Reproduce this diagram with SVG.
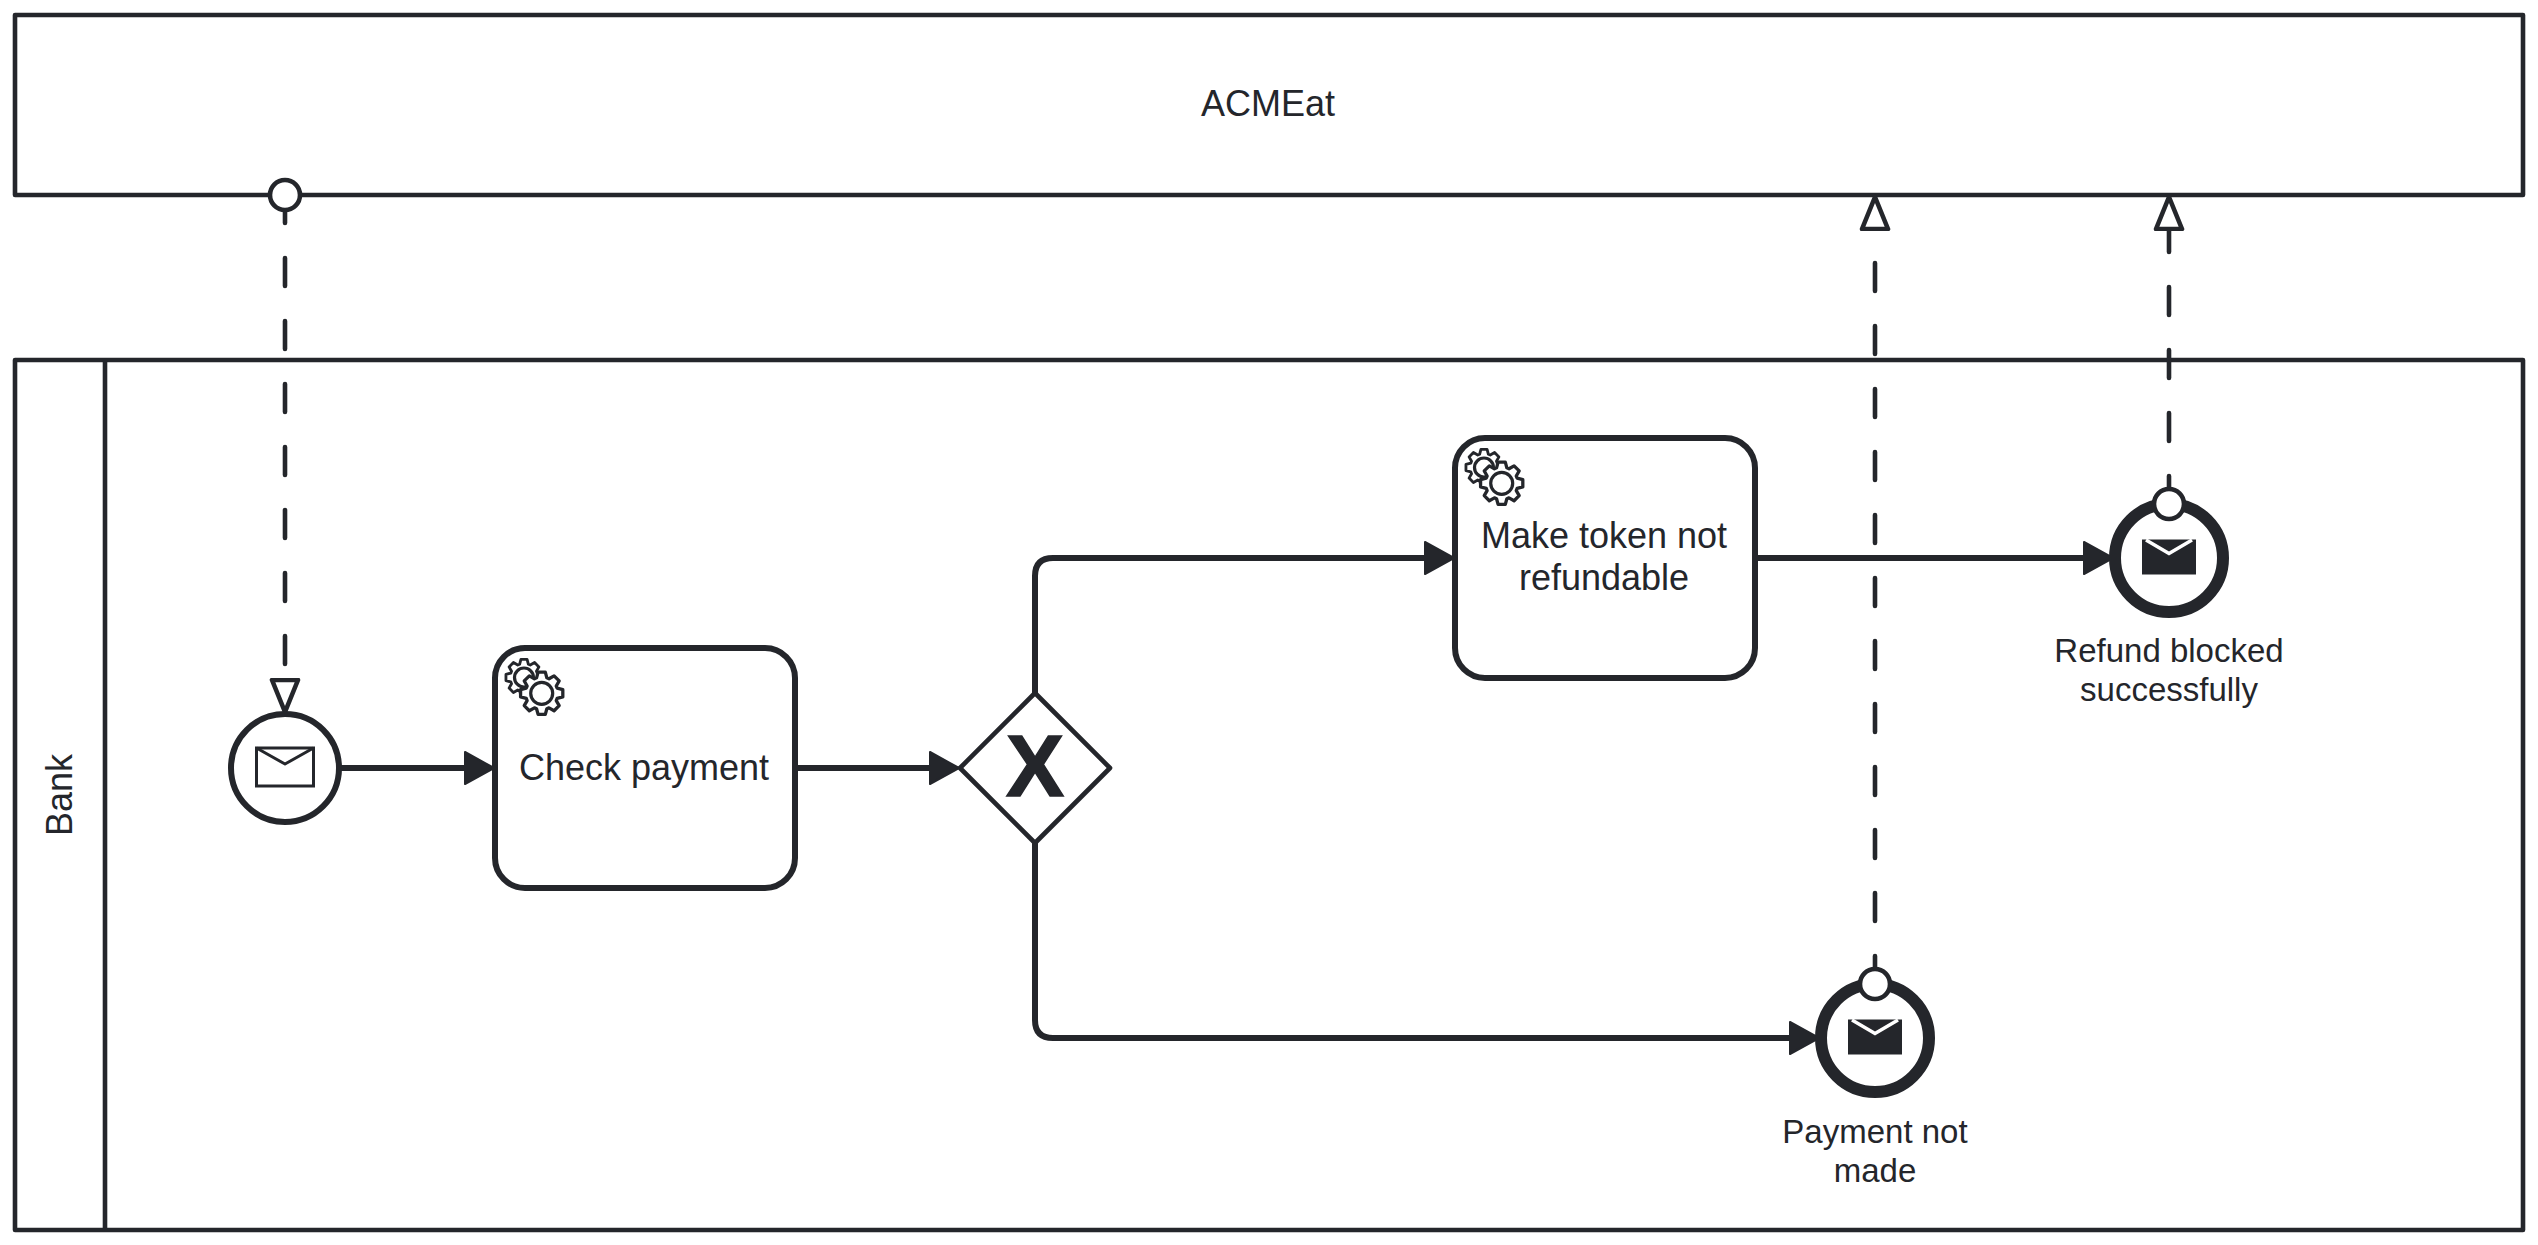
<svg xmlns="http://www.w3.org/2000/svg" xmlns:xlink="http://www.w3.org/1999/xlink" width="2538" height="1245" viewBox="0 0 2538 1245">
<style>
text{font-family:"Liberation Sans",Arial,sans-serif;fill:#24262b;text-anchor:middle}
.t36{font-size:36px}
.t33{font-size:33px}
.pool{fill:#fff;stroke:#24262b;stroke-width:4.6;stroke-linejoin:round}
.task{fill:#fff;stroke:#24262b;stroke-width:6}
.seq{fill:none;stroke:#24262b;stroke-width:6;marker-end:url(#solid)}
.msg{fill:none;stroke:#24262b;stroke-width:4.6;stroke-linecap:round;stroke-dasharray:28 35;marker-end:url(#hollow)}
.gear{fill:#fff;stroke:#24262b;stroke-width:3.2;stroke-linejoin:round}
.ev{fill:#fff;stroke:#24262b}
.dot{fill:#fff;stroke:#24262b;stroke-width:4.6}
</style>
<defs>
<marker id="solid" markerUnits="userSpaceOnUse" viewBox="0 0 36 38" markerWidth="36" markerHeight="38" refX="8" refY="19" orient="auto"><path d="M2 3L31 19L2 35Z" fill="#24262b" stroke="#24262b" stroke-width="2" stroke-linejoin="round"/></marker>
<marker id="hollow" markerUnits="userSpaceOnUse" viewBox="0 0 38 34" markerWidth="38" markerHeight="34" refX="2" refY="17" orient="auto"><path d="M2 4L34 17L2 30Z" fill="#fff" stroke="#24262b" stroke-width="4.6" stroke-linejoin="round"/></marker>
<path id="g" d="M-5-15L-3.5-20.5L3.5-20.5L5-15L7.07-14.14L12.02-16.97L16.97-12.02L14.14-7.07L15-5L20.5-3.5L20.5 3.5L15 5L14.14 7.07L16.97 12.02L12.02 16.97L7.07 14.14L5 15L3.5 20.5L-3.5 20.5L-5 15L-7.07 14.14L-12.02 16.97L-16.97 12.02L-14.14 7.07L-15 5L-20.5 3.5L-20.5-3.5L-15-5L-14.14-7.07L-16.97-12.02L-12.02-16.97L-7.07-14.14Z"/>
<g id="gears">
<use href="#g" class="gear" transform="translate(29 29.5) scale(.88)"/>
<circle cx="29" cy="29.5" r="9.5" fill="none" stroke="#24262b" stroke-width="3.2"/>
<use href="#g" class="gear" transform="translate(46.7 45.3) scale(1.03)"/>
<circle cx="46.7" cy="45.3" r="11" fill="#fff" stroke="#24262b" stroke-width="3.2"/>
</g>
<g id="envFill"><rect x="-27" y="-17.5" width="54" height="35" fill="#24262b"/><path d="M-23-17L0-3.5L23-17" fill="none" stroke="#fff" stroke-width="3.5"/></g>
</defs>
<rect width="2538" height="1245" fill="#fff"/>
<g id="pool-acmeat"><rect class="pool" x="15" y="15" width="2508" height="180"/><text class="t36" x="1268" y="116">ACMEat</text></g>
<g id="pool-bank"><rect class="pool" x="15" y="360" width="2508" height="870"/><path class="pool" d="M105 360V1230"/><text class="t36" transform="translate(71.5 795) rotate(-90)" x="0" y="0">Bank</text></g>
<g id="connectors">
<path class="seq" d="M339 768H471"/>
<path class="seq" d="M795 768H936"/>
<path class="seq" d="M1035 693V576Q1035 558 1053 558H1431"/>
<path class="seq" d="M1035 843V1020Q1035 1038 1053 1038H1796"/>
<path class="seq" d="M1755 558H2090"/>
<path class="msg" d="M285 195V680"/>
<path class="msg" d="M1875 984V229"/>
<path class="msg" d="M2169 504V229"/>
</g>
<g id="start-event"><circle class="ev" cx="285" cy="768" r="54" stroke-width="6"/><rect x="256.5" y="748" width="57" height="38" fill="none" stroke="#24262b" stroke-width="3"/><path d="M256.5 748L285 764L313.5 748" fill="none" stroke="#24262b" stroke-width="3" stroke-linejoin="round"/></g>
<g id="task-check"><rect class="task" x="495" y="648" width="300" height="240" rx="30"/><use href="#gears" x="495" y="648"/><text class="t36" x="644" y="780">Check payment</text></g>
<g id="gateway"><path d="M1035 693L1110 768L1035 843L960 768Z" fill="#fff" stroke="#24262b" stroke-width="4.6" stroke-linejoin="round"/><text x="1035" y="796" style="font-size:87px;font-weight:bold;stroke:#24262b;stroke-width:1.5">X</text></g>
<g id="task-token"><rect class="task" x="1455" y="438" width="300" height="240" rx="30"/><use href="#gears" x="1455" y="438"/><text class="t36" x="1604" y="548">Make token not</text><text class="t36" x="1604" y="590">refundable</text></g>
<g id="end-refund"><circle class="ev" cx="2169" cy="558" r="54" stroke-width="12"/><use href="#envFill" x="2169" y="557"/><circle class="dot" cx="2169" cy="504" r="15"/><text class="t33" x="2169" y="662">Refund blocked</text><text class="t33" x="2169" y="701">successfully</text></g>
<g id="end-payment"><circle class="ev" cx="1875" cy="1038" r="54" stroke-width="12"/><use href="#envFill" x="1875" y="1037"/><circle class="dot" cx="1875" cy="984" r="15"/><text class="t33" x="1875" y="1143">Payment not</text><text class="t33" x="1875" y="1182">made</text></g>
<g id="start-dot"><circle class="dot" cx="285" cy="195" r="15"/></g>
</svg>
